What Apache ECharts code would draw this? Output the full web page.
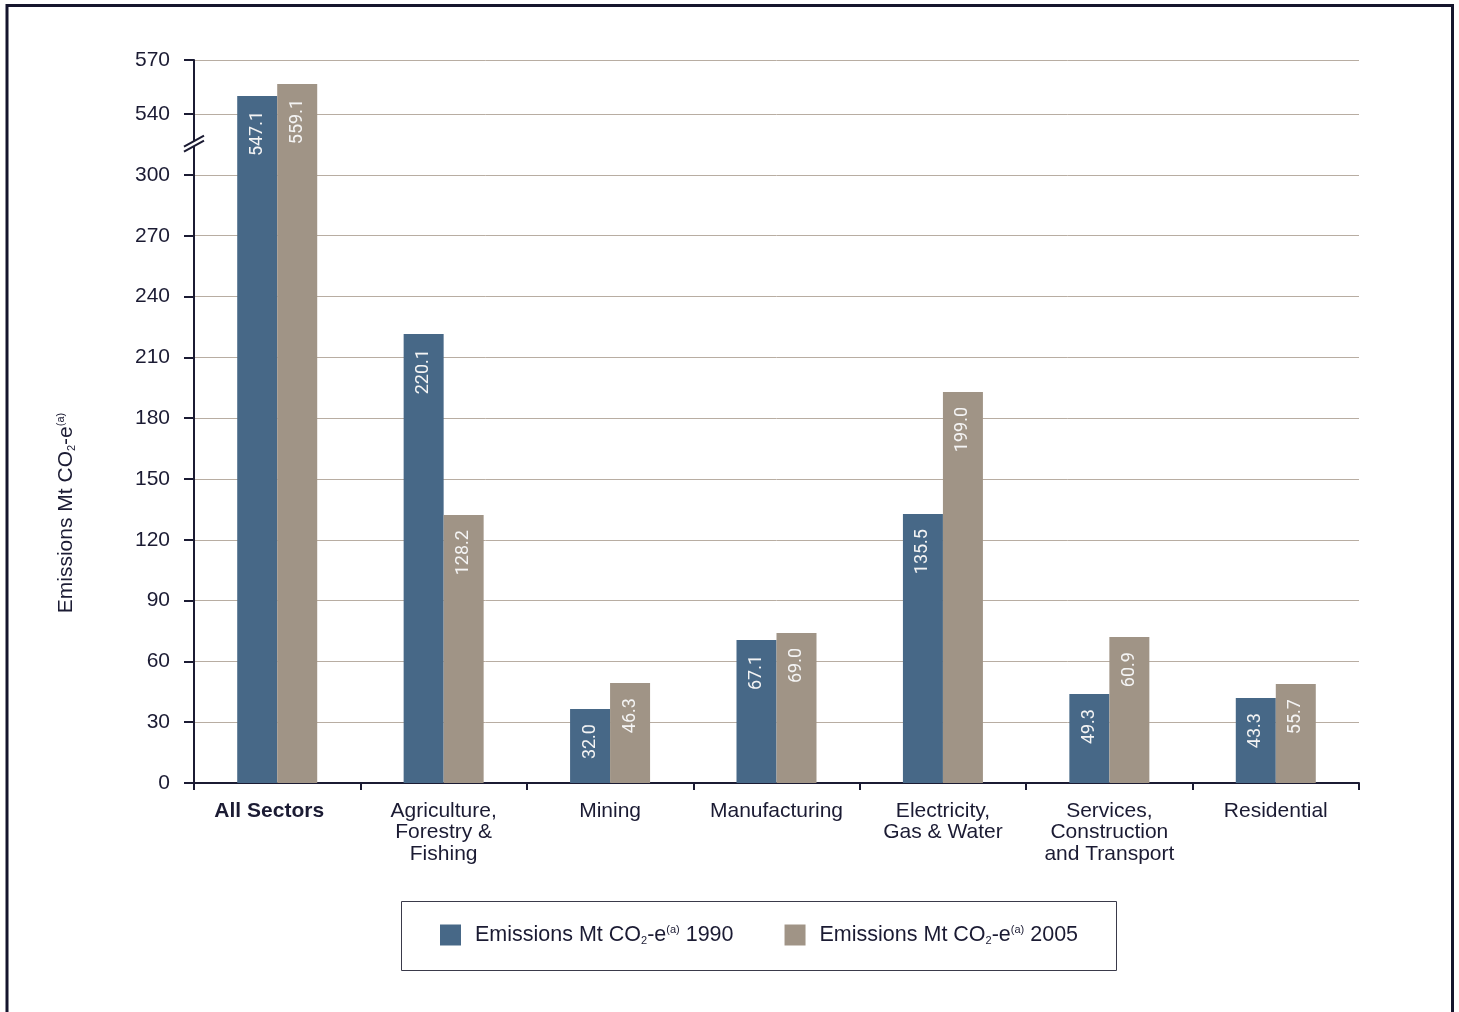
<!DOCTYPE html>
<html>
<head>
<meta charset="utf-8">
<script src="https://cdn.jsdelivr.net/npm/echarts@6/dist/echarts.min.js"></script>
<style>
html,body{margin:0;padding:0;background:#fff;}
#chart{width:1459px;height:1012px;}
</style>
</head>
<body>
<div id="chart"></div>
<script>
// ---- data ----
const categories = ['All Sectors', 'Agriculture,\nForestry &\nFishing', 'Mining', 'Manufacturing', 'Electricity,\nGas & Water', 'Services,\nConstruction\nand Transport', 'Residential'];
// bar heights as drawn in the picture
const heights1990 = [550.1, 221.5, 36.5, 70.6, 132.7, 43.9, 41.9];
const heights2005 = [556.7, 132.2, 49.3, 74.0, 192.9, 72.0, 48.8];
// printed value labels
const labels1990 = ['547.1', '220.1', '32.0', '67.1', '135.5', '49.3', '43.3'];
const labels2005 = ['559.1', '128.2', '46.3', '69.0', '199.0', '60.9', '55.7'];
const seriesNames = ['Emissions Mt CO2-e(a) 1990', 'Emissions Mt CO2-e(a) 2005'];
const seriesYears = ['1990', '2005'];
// axis break: lower segment 0-300, upper segment 540-570
const lowTicks = [0, 30, 60, 90, 120, 150, 180, 210, 240, 270, 300];
const highTicks = [540, 570];

const LOW_MAX = 300, HIGH_MIN = 540, HIGH_MAX = 570;
const DISP_HIGH_MIN = 330, DISP_MAX = 356.7;
function toDisp(v) {
  return v <= LOW_MAX ? v : DISP_HIGH_MIN + (v - HIGH_MIN) * (DISP_MAX - DISP_HIGH_MIN) / (HIGH_MAX - HIGH_MIN);
}
function fromDisp(d) {
  return d <= LOW_MAX ? d : HIGH_MIN + (d - DISP_HIGH_MIN) * (HIGH_MAX - HIGH_MIN) / (DISP_MAX - DISP_HIGH_MIN);
}

const TXT = '#1b1b33';
const FONT = "'Liberation Sans', Arial, sans-serif";
const VAL_FONT = "Roboto, sans-serif";
const colors = ['#476887', '#a09486'];

const chart = echarts.init(document.getElementById('chart'), null, {renderer: 'canvas'});

function labelCfg(arr) {
  return {
    show: true,
    position: 'insideTop',
    distance: 15,
    rotate: 90,
    align: 'right',
    verticalAlign: 'middle',
    color: '#f4f4f4',
    fontFamily: VAL_FONT,
    fontSize: 18,
    formatter: p => arr[p.dataIndex]
  };
}

const subSup = {
  sub: {fontSize: 11, lineHeight: 11, verticalAlign: 'bottom', fontFamily: FONT, color: TXT},
  sup: {fontSize: 11, lineHeight: 11, verticalAlign: 'top', fontFamily: FONT, color: TXT}
};

const option = {
  animation: false,
  backgroundColor: '#fff',
  color: colors,
  grid: {left: 194, right: 100, top: 60, bottom: 229, containLabel: false},
  legend: {
    left: 440,
    top: 924,
    itemWidth: 21,
    itemHeight: 21,
    itemGap: 51,
    icon: 'rect',
    padding: 0,
    data: seriesNames,
    formatter: name => {
      const i = seriesNames.indexOf(name);
      return '{g| }{t|Emissions Mt CO}{sub|2}{t|-e}{sup|(a)}{t| ' + seriesYears[i] + '}';
    },
    textStyle: {
      color: TXT, fontFamily: FONT, fontSize: 21.5,
      rich: Object.assign({
        g: {width: 9, fontSize: 21.5, lineHeight: 22},
        t: {fontSize: 21.5, lineHeight: 22, fontFamily: FONT, color: TXT}
      }, subSup)
    }
  },
  xAxis: {
    type: 'category',
    data: categories,
    axisLine: {lineStyle: {color: TXT, width: 2}},
    axisTick: {show: true, length: 7, lineStyle: {color: TXT, width: 2}},
    axisLabel: {
      interval: 0,
      margin: 17,
      color: TXT,
      fontFamily: FONT,
      fontSize: 21,
      lineHeight: 21.5,
      formatter: (v, i) => i === 0 ? '{b|' + v + '}' : v,
      rich: {b: {fontWeight: 'bold', fontSize: 21, fontFamily: FONT, color: TXT, padding: [0, 16, 0, 0]}}
    }
  },
  yAxis: {
    type: 'value',
    min: 0,
    max: DISP_MAX,
    interval: 30,
    axisLine: {show: true, lineStyle: {color: TXT, width: 2}},
    axisTick: {show: true, length: 10, lineStyle: {color: TXT, width: 2}},
    axisLabel: {
      margin: 24,
      color: TXT,
      fontFamily: FONT,
      fontSize: 21,
      formatter: d => {
        const v = Math.round(fromDisp(d));
        if (d <= LOW_MAX) return lowTicks.indexOf(v) >= 0 ? String(v) : '';
        return highTicks.indexOf(v) >= 0 ? String(v) : '';
      }
    },
    splitLine: {show: true, lineStyle: {color: '#b8ada2', width: 1}}
  },
  series: [
    {
      name: seriesNames[0], type: 'bar', barWidth: 40, barGap: '0%',
      itemStyle: {color: colors[0]},
      label: labelCfg(labels1990),
      data: heights1990.map(toDisp)
    },
    {
      name: seriesNames[1], type: 'bar', barWidth: 40, barGap: '0%',
      itemStyle: {color: colors[1]},
      label: labelCfg(labels2005),
      data: heights2005.map(toDisp)
    }
  ]
};
chart.setOption(option);

// decorations: frame, legend box, axis title, axis break mark
const rect = chart.getModel().getComponent('grid').coordinateSystem.getRect();
const ax = rect.x;
const cy = chart.convertToPixel({yAxisIndex: 0}, 315);
chart.setOption({
  graphic: [
    {type: 'rect', shape: {x: 7, y: 5.5, width: 1445.5, height: 1100}, style: {fill: 'none', stroke: '#15152d', lineWidth: 3}, silent: true, z: 100},
    {type: 'rect', shape: {x: 401.5, y: 901.5, width: 715, height: 69}, style: {fill: 'none', stroke: '#3a3a4a', lineWidth: 1}, silent: true, z: 100},
    {
      type: 'text', x: 66, y: 513, rotation: Math.PI / 2, silent: true, z: 100,
      style: {
        text: '{t|Emissions Mt CO}{sub|2}{t|-e}{sup|(a)}',
        align: 'center', verticalAlign: 'middle',
        fill: TXT, fontFamily: FONT, fontSize: 21,
        rich: Object.assign({t: {fontSize: 21, lineHeight: 22, fontFamily: FONT, fill: TXT, color: TXT}}, subSup)
      }
    },
    {type: 'polygon', shape: {points: [[ax - 10, cy + 2], [ax + 10, cy - 9], [ax + 10, cy - 4], [ax - 10, cy + 7]]}, style: {fill: '#fff'}, silent: true, z: 100},
    {type: 'line', shape: {x1: ax - 10, y1: cy + 2, x2: ax + 10, y2: cy - 9}, style: {stroke: TXT, lineWidth: 2}, silent: true, z: 101},
    {type: 'line', shape: {x1: ax - 10, y1: cy + 7, x2: ax + 10, y2: cy - 4}, style: {stroke: TXT, lineWidth: 2}, silent: true, z: 101}
  ]
});
</script>
</body>
</html>
